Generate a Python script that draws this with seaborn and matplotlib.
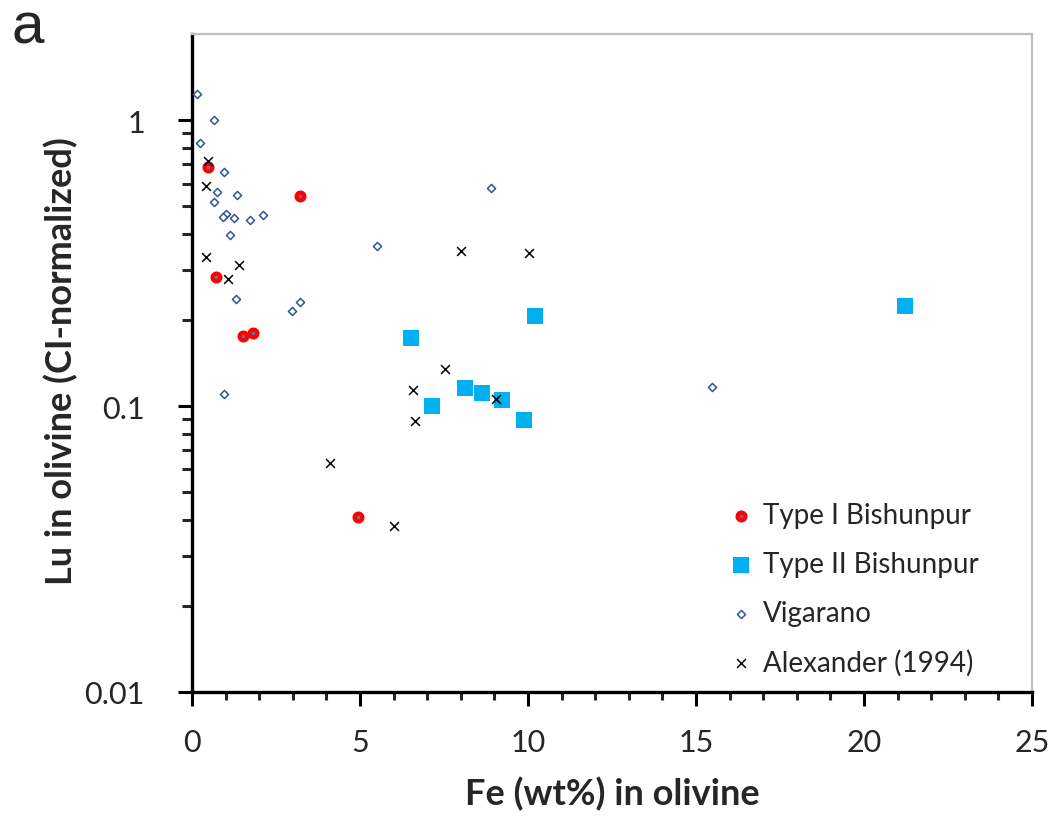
import matplotlib
matplotlib.use("Agg")
import matplotlib.pyplot as plt
import seaborn as sns
import numpy as np
import pandas as pd
from matplotlib.ticker import FixedLocator, NullFormatter, MultipleLocator

# ---- data ----
type1_fe = [0.47, 3.22, 0.71, 1.51, 1.82, 4.95]
type1_lu = [0.685, 0.541, 0.282, 0.176, 0.180, 0.0409]

type2_fe = [6.52, 10.20, 7.14, 8.13, 8.63, 9.23, 9.88, 21.22]
type2_lu = [0.173, 0.206, 0.100, 0.116, 0.111, 0.105, 0.0893, 0.224]

vig_fe = [0.14, 0.66, 0.24, 0.96, 0.75, 1.33, 0.66, 1.00, 0.91, 1.25, 1.73, 2.10,
          1.12, 1.31, 2.98, 3.21, 0.95, 8.89, 5.50, 15.48]
vig_lu = [1.23, 1.00, 0.83, 0.656, 0.559, 0.548, 0.518, 0.470, 0.459, 0.455, 0.448, 0.467,
          0.397, 0.237, 0.215, 0.232, 0.110, 0.58, 0.362, 0.117]

alex_fe = [0.49, 0.42, 0.43, 1.40, 1.06, 8.01, 10.02, 7.52, 6.57, 6.64, 9.04, 4.11, 6.02]
alex_lu = [0.719, 0.589, 0.333, 0.312, 0.278, 0.349, 0.342, 0.135, 0.114, 0.0885, 0.106, 0.0633, 0.038]

labels = ["Type I Bishunpur", "Type II Bishunpur", "Vigarano", "Alexander (1994)"]
x_ticks = [0, 5, 10, 15, 20, 25]
y_ticks = [0.01, 0.1, 1]
y_ticklabels = ["0.01", "0.1", "1"]
x_label = "Fe (wt%) in olivine"
y_label = "Lu in olivine (CI-normalized)"

sns.set_style("white")
plt.rcParams['font.family'] = ['Lato', 'DejaVu Sans']

fig = plt.figure(figsize=(10.58, 8.2), dpi=100)
ax = fig.add_axes([192/1058, 1-693/820, (1032-192)/1058, (693-35)/820])

sns.scatterplot(x=type1_fe, y=type1_lu, ax=ax, marker='o', s=32, color='#5B73A8',
                edgecolor='#FF0000', linewidth=3.0, label=labels[0], zorder=4)
sns.scatterplot(x=type2_fe, y=type2_lu, ax=ax, marker='s', s=133, color='#00B0F0',
                linewidth=0, label=labels[1], zorder=3)
sns.scatterplot(x=vig_fe, y=vig_lu, ax=ax, marker='D', s=17, color='white',
                edgecolor='#2F5597', linewidth=1.1, label=labels[2], zorder=3)
sns.scatterplot(x=alex_fe, y=alex_lu, ax=ax, marker='x', s=40, color='black',
                linewidth=1.1, label=labels[3], zorder=5)

ax.set_yscale('log')
ax.set_xlim(0, 25)
ax.set_ylim(0.01, 2)

ax.xaxis.set_major_locator(FixedLocator(x_ticks))
ax.xaxis.set_minor_locator(MultipleLocator(1))
ax.set_xticklabels([str(t) for t in x_ticks])
ax.yaxis.set_major_locator(FixedLocator(y_ticks))
minors = [m * 10.0**e for e in (-2, -1, 0) for m in range(2, 10) if m * 10.0**e < 2]
ax.yaxis.set_minor_locator(FixedLocator(minors))
ax.yaxis.set_minor_formatter(NullFormatter())
ax.set_yticklabels(y_ticklabels)

ax.tick_params(axis='both', which='major', direction='out', length=10, width=2.2,
               color='black', labelsize=22, bottom=True, left=True)
ax.tick_params(axis='x', which='major', pad=16)
ax.tick_params(axis='y', which='major', pad=24)
ax.tick_params(axis='x', which='minor', direction='out', length=6, width=2.2, bottom=True)
ax.tick_params(axis='y', which='minor', direction='out', length=7, width=2.2, left=True)

for s in ['left', 'bottom']:
    ax.spines[s].set_color('black')
    ax.spines[s].set_linewidth(2.4)
for s in ['top', 'right']:
    ax.spines[s].set_color('#BFBFBF')
    ax.spines[s].set_linewidth(1.6)

ax.set_xlabel(x_label, fontsize=26, fontweight='bold')
ax.set_ylabel(y_label, fontsize=26, fontweight='bold')
ax.xaxis.set_label_coords(0.5, -0.128)
ax.yaxis.set_label_coords(-0.135, 0.505)

leg = ax.legend(loc='upper left', bbox_to_anchor=(0.62, 0.305), frameon=False,
                fontsize=20, handletextpad=0.2, labelspacing=0.82, handlelength=1.2,
                borderaxespad=0)

fig.text(11/1058, 1-44/820, "a", fontsize=42, ha='left', va='baseline',
         family=['Liberation Sans', 'DejaVu Sans'])

fig.savefig("out.png", dpi=100)
